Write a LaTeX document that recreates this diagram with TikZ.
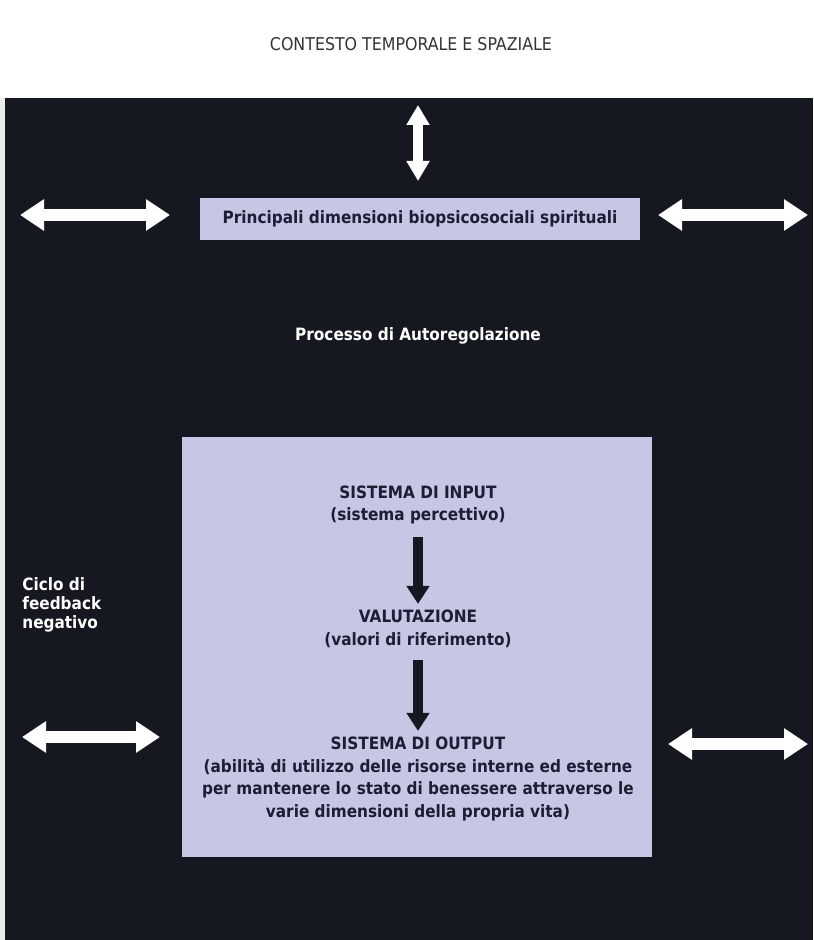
\documentclass[tikz,border=0pt]{standalone}
\usepackage{fontspec}
\setmainfont{DejaVu Sans Condensed}
\usepackage{xcolor}
\usetikzlibrary{arrows.meta,positioning}

\definecolor{bgdark}{HTML}{161821}
\definecolor{boxfill}{HTML}{C5C7E4}
\definecolor{boxtext}{HTML}{1C1F33}

\begin{document}
\begin{tikzpicture}[
  x=0.5pt, y=-0.5pt,
  every node/.style={font=\fontsize{8.5}{11.2}\selectfont\bfseries, inner sep=0pt},
  title/.style={font=\fontsize{8.8}{10}\selectfont, text=black!80},
  panel/.style={rectangle, fill=boxfill, text=boxtext, align=center},
  stage/.style={text=boxtext, align=center},
  label/.style={text=white, align=left},
  whitearrow/.style={white, line width=6pt, {Triangle[width=15pt,length=12pt]}-{Triangle[width=15pt,length=12pt]}},
  vwhitearrow/.style={white, line width=5pt, {Triangle[width=11pt,length=10pt]}-{Triangle[width=11pt,length=10pt]}},
  downarrow/.style={bgdark, line width=5pt, -{Triangle[width=11pt,length=9pt]}}
]
\useasboundingbox (0,0) rectangle (813,940);
\fill[white] (0,0) rectangle (813,98);
\fill[black!8] (0,98) rectangle (5,940);
\fill[bgdark] (5,98) rectangle (813,940);

\node[title] (context) at (411,44) {CONTESTO TEMPORALE E SPAZIALE};

\node[panel, minimum width=220pt, minimum height=21pt] (dims) at (420,219) {Principali dimensioni biopsicosociali spirituali};
\node[label] (process) at (418,336) {Processo di Autoregolazione};

\node[panel, minimum width=235pt, minimum height=210pt] (selfreg) at (417,647) {};
\node[stage] (input) at (418,505) {SISTEMA DI INPUT\\(sistema percettivo)};
\node[stage] (eval) at (418,629) {VALUTAZIONE\\(valori di riferimento)};
\node[stage] (output) at (418,779) {SISTEMA DI OUTPUT\\(abilità di utilizzo delle risorse interne ed esterne\\per mantenere lo stato di benessere attraverso le\\varie dimensioni della propria vita)};

\node[label, font=\fontsize{8.5}{9.6}\selectfont\bfseries, anchor=west] (loop) at (22,605) {Ciclo di\\feedback\\negativo};

% white exchange arrows
\coordinate (ctxtop) at (418,105);
\coordinate (ctxbot) at (418,181);
\coordinate (ul1) at (20,215);
\coordinate (ul2) at (170,215);
\coordinate (ur1) at (658,215);
\coordinate (ur2) at (808,215);
\coordinate (bl1) at (22,737);
\coordinate (bl2) at (160,737);
\coordinate (br1) at (668,744);
\coordinate (br2) at (808,744);

\draw[vwhitearrow] (ctxtop) -- (ctxbot);
\draw[whitearrow] (ul1) -- (ul2);
\draw[whitearrow] (ur1) -- (ur2);
\draw[whitearrow] (bl1) -- (bl2);
\draw[whitearrow] (br1) -- (br2);

% flow inside the process
\draw[downarrow] ([yshift=-6pt]input.south) -- ([yshift=3pt]eval.north);
\draw[downarrow] ([yshift=-6pt]eval.south) -- ([yshift=3pt]output.north);
\end{tikzpicture}
\end{document}
